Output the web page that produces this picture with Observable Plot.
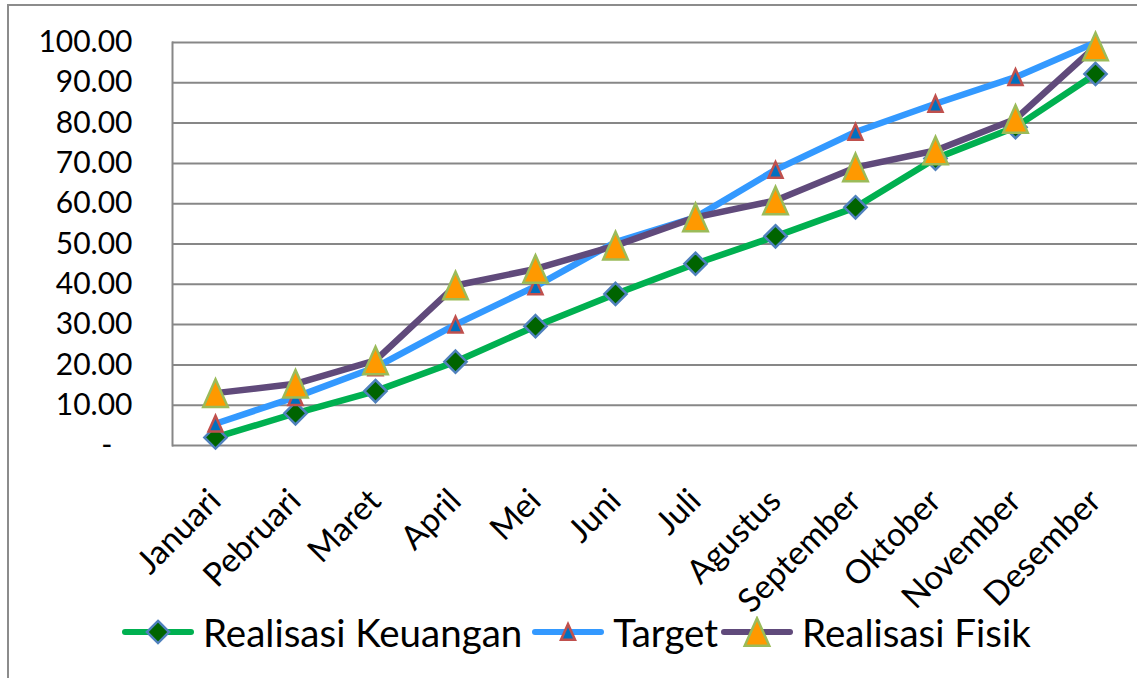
<!DOCTYPE html>
<html><head><meta charset="utf-8">
<script src="https://cdn.jsdelivr.net/npm/d3@7"></script>
<script src="https://cdn.jsdelivr.net/npm/@observablehq/plot@0.6"></script>
<style>
body{margin:0;background:#fff;font-family:Lato,sans-serif;}
#wrap{position:relative;width:1137px;height:678px;overflow:hidden;background:#fff;}
#border{position:absolute;left:7px;top:4px;width:1300px;height:800px;border-left:2px solid #8c8c8c;border-top:2px solid #8c8c8c;}
#chart{position:absolute;left:0;top:0;}
#legend{position:absolute;left:122px;top:610px;height:44px;display:flex;align-items:center;font-size:38.5px;color:#000;white-space:nowrap;}
#legend .item{display:flex;align-items:center;}
#legend svg{display:block;}
</style></head><body>
<div id="wrap"><div id="border"></div><div id="chart"></div><div id="legend"></div></div>
<script>
const months = ["Januari","Pebruari","Maret","April","Mei","Juni","Juli","Agustus","September","Oktober","November","Desember"];
const realisasiKeuangan = [2.0, 8.0, 13.5, 20.8, 29.6, 37.6, 45.1, 51.9, 59.1, 71.2, 79.0, 92.2];
const target = [5.4, 12.0, 19.4, 30.0, 39.5, 50.5, 56.6, 68.4, 77.8, 84.8, 91.4, 100.0];
const realisasiFisik = [13.0, 15.3, 21.1, 39.7, 43.8, 49.6, 56.6, 60.8, 69.0, 73.2, 81.0, 99.0];
const yTicks = [0, 10, 20, 30, 40, 50, 60, 70, 80, 90, 100];
const seriesNames = ["Realisasi Keuangan", "Target", "Realisasi Fisik"];

const toRows = (vals) => months.map((m, i) => ({month: m, value: vals[i]}));
const keu = toRows(realisasiKeuangan);
const tgt = toRows(target);
const fis = toRows(realisasiFisik);

// isosceles triangle marker (Excel-like), centered on its bounding box
const tallTriangle = {
  draw(ctx, size) {
    const s = Math.sqrt(size);
    const hw = s * 0.66, hh = s * 0.74;
    ctx.moveTo(0, -hh);
    ctx.lineTo(hw, hh);
    ctx.lineTo(-hw, hh);
    ctx.closePath();
  }
};

const styles = [
  {line: "#00B050", symbol: d3.symbolDiamond2, r: 10, fill: "#006400", stroke: "#4F81BD", sw: 2.5},
  {line: "#3399FF", symbol: tallTriangle, r: 6, fill: "#0070C0", stroke: "#C0504D", sw: 2.5},
  {line: "#604A7B", symbol: tallTriangle, r: 10.5, fill: "#FF9900", stroke: "#9BBB59", sw: 2.5}
];
const rows = [keu, tgt, fis];

const seriesMarks = rows.flatMap((d, i) => [
  Plot.line(d, {x: "month", y: "value", stroke: styles[i].line, strokeWidth: 6.5, strokeLinejoin: "round", strokeLinecap: "round"}),
  Plot.dot(d, {x: "month", y: "value", symbol: styles[i].symbol, r: styles[i].r, fill: styles[i].fill, stroke: styles[i].stroke, strokeWidth: styles[i].sw})
]);

const chart = Plot.plot({
  width: 1137, height: 612,
  marginLeft: 172, marginRight: 0, marginTop: 42, marginBottom: 167,
  style: {fontFamily: "Lato, sans-serif", fontSize: "30px", color: "#000", background: "transparent", overflow: "visible"},
  x: {type: "band", domain: months, padding: 0},
  y: {domain: [0, 100]},
  marks: [
    Plot.gridY(yTicks, {stroke: "#878787", strokeOpacity: 1, strokeWidth: 2}),
    Plot.frame({anchor: "left", stroke: "#878787", strokeWidth: 2}),
    Plot.axisY(yTicks.filter(d => d > 0), {tickSize: 0, tickPadding: 40, tickFormat: d => d.toFixed(2), label: null}),
    Plot.axisY([0], {tickSize: 0, tickPadding: 60, tickFormat: () => "-", label: null}),
    Plot.axisX({tickRotate: -45, tickSize: 0, tickPadding: 50, fontSize: 33, label: null}),
    ...seriesMarks
  ]
});
document.getElementById("chart").appendChild(chart);

// legend
const legend = d3.select("#legend");
seriesNames.forEach((name, i) => {
  const s = styles[i];
  const item = legend.append("div").attr("class", "item");
  const svg = item.append("svg").attr("width", 72).attr("height", 32);
  svg.append("line").attr("x1", 3).attr("x2", 69).attr("y1", 16).attr("y2", 16)
    .attr("stroke", s.line).attr("stroke-width", 6).attr("stroke-linecap", "round");
  svg.append("path").attr("transform", "translate(36,16)")
    .attr("d", d3.symbol(s.symbol, Math.PI * s.r * s.r)())
    .attr("fill", s.fill).attr("stroke", s.stroke).attr("stroke-width", s.sw);
  item.append("span").text(name).style("margin-left", "9px").style("margin-right", i === 0 ? "10px" : "3px");
});
</script>
</body></html>
